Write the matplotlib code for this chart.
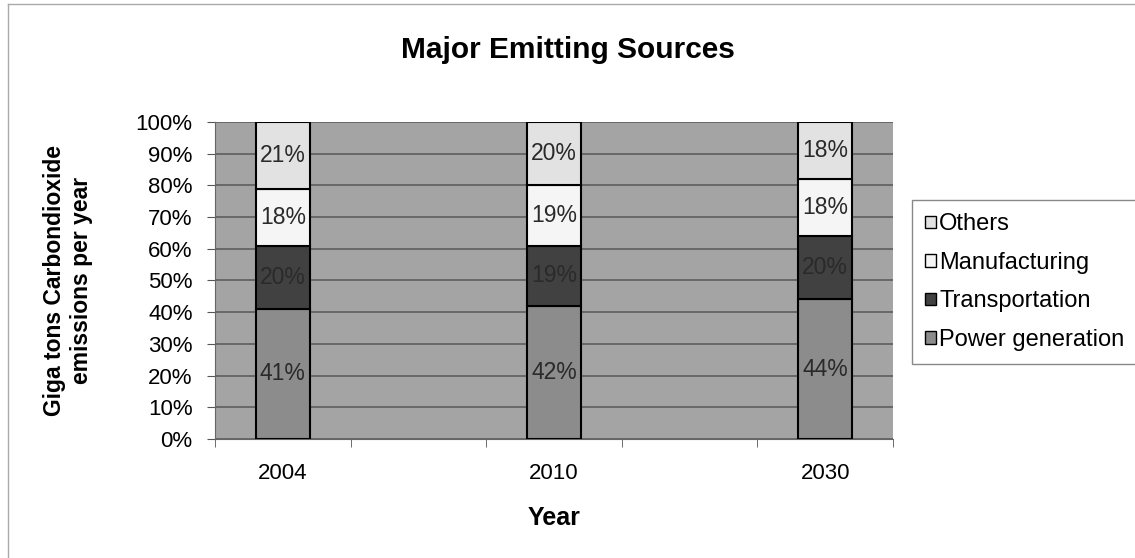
import matplotlib.pyplot as plt
from matplotlib.patches import Patch
from matplotlib.lines import Line2D

plt.rcParams["font.family"] = ["Liberation Sans", "DejaVu Sans"]

# Data (shares of emissions, %)
years = ["2004", "", "2010", "", "2030"]
bar_pos = [0, 2, 4]
power = [41, 42, 44]
transport = [20, 19, 20]
manufacturing = [18, 19, 18]
others = [21, 20, 18]

series = [
    ("Power generation", power, "#8c8c8c"),
    ("Transportation", transport, "#414141"),
    ("Manufacturing", manufacturing, "#f5f5f5"),
    ("Others", others, "#e2e2e2"),
]

fig = plt.figure(figsize=(11.35, 5.58), dpi=100)
ax = fig.add_axes([0.1894, 0.2133, 0.5974, 0.5681])
ax.set_facecolor("#a4a4a4")

bottom = [0, 0, 0]
for name, vals, col in series:
    ax.bar(bar_pos, vals, width=0.4, bottom=bottom, color=col,
           edgecolor="black", linewidth=1.5, label=name, zorder=3)
    for x, b, v in zip(bar_pos, bottom, vals):
        ax.text(x, b + v / 2, f"{v}%", ha="center", va="center",
                fontsize=16.5, color="#2a2a2a", zorder=4)
    bottom = [b + v for b, v in zip(bottom, vals)]

ax.set_xlim(-0.5, 4.5)
ax.set_ylim(0, 100)
ax.set_yticks(range(0, 101, 10))
ax.set_yticklabels([f"{t}%" for t in range(0, 101, 10)], fontsize=16)
ax.set_xticks(range(5))
ax.set_xticklabels(years, fontsize=16)
ax.set_xticks([i - 0.5 for i in range(6)], minor=True)
ax.tick_params(axis="x", which="major", length=0, pad=17)
ax.tick_params(axis="x", which="minor", length=6, color="#555555")
ax.tick_params(axis="y", length=6, color="#555555", pad=10)
ax.grid(axis="y", color="#5e5e5e", linewidth=1.2, zorder=1)
for s in ["top", "right"]:
    ax.spines[s].set_visible(False)
ax.spines["left"].set_color("#666666")
ax.spines["bottom"].set_color("#666666")

ax.set_xlabel("Year", fontsize=18, fontweight="bold", labelpad=16)
ax.set_ylabel("Giga tons Carbondioxide\nemissions per year", fontsize=16.5,
              fontweight="bold", labelpad=31)
fig.text(0.5, 0.91, "Major Emitting Sources", ha="center", va="center",
         fontsize=21.5, fontweight="bold")

handles = [Patch(facecolor=col, edgecolor="black", label=name)
           for name, vals, col in reversed(series)]
leg = fig.legend(handles=handles, loc="upper left",
                 bbox_to_anchor=(0.8035, 0.641), fontsize=17,
                 handlelength=0.45, handleheight=0.45, handletextpad=0.15,
                 labelspacing=0.7, fancybox=False, framealpha=1,
                 borderpad=0.55, borderaxespad=0)
leg.get_frame().set_edgecolor("#888888")

# chart area border (cropped on the right and bottom)
fig.add_artist(Line2D([0.007, 1.0], [0.992, 0.992], color="#aaaaaa",
                      linewidth=1, transform=fig.transFigure))
fig.add_artist(Line2D([0.007, 0.007], [0.0, 0.992], color="#aaaaaa",
                      linewidth=1, transform=fig.transFigure))

fig.savefig("out.png", dpi=100)
